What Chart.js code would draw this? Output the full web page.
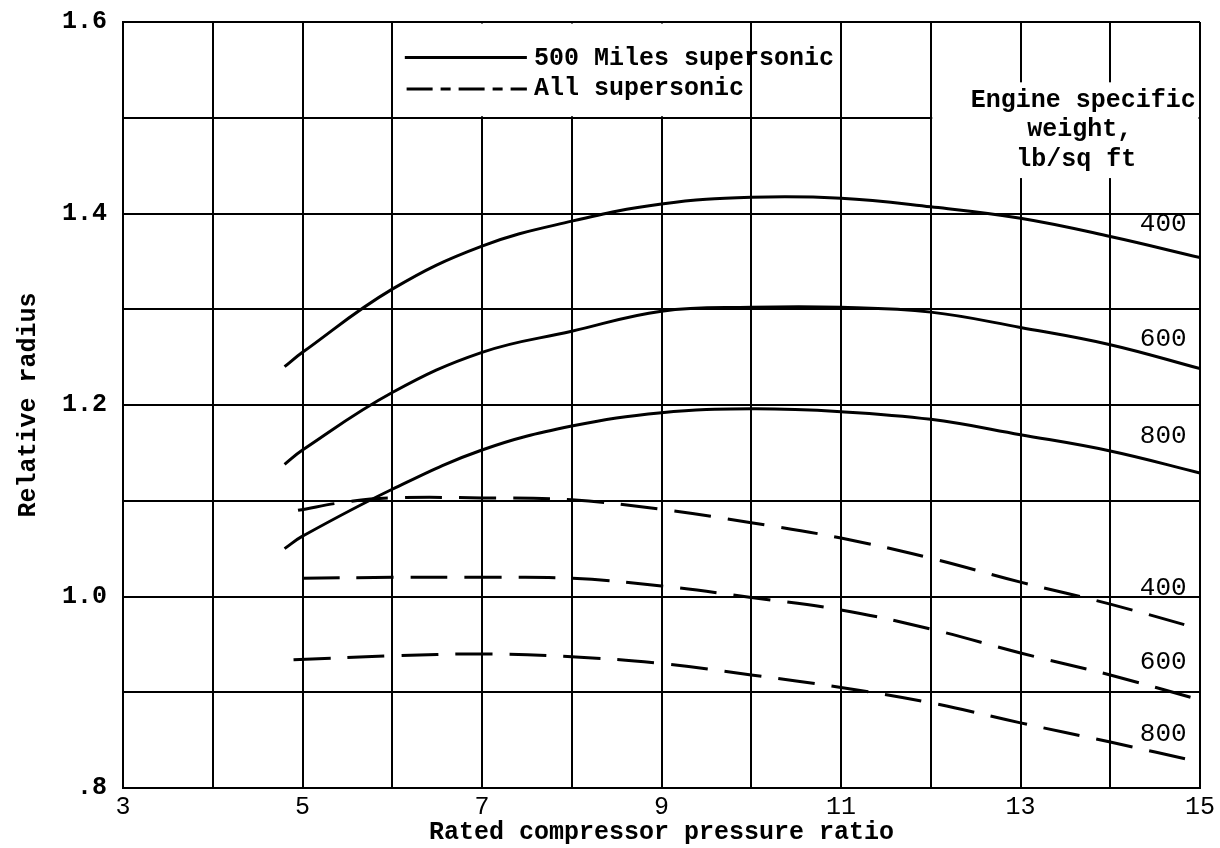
<!DOCTYPE html>
<html>
<head>
<meta charset="utf-8">
<script src="https://cdn.jsdelivr.net/npm/chart.js@4.4.1/dist/chart.umd.min.js"></script>
<style>
  html, body { margin: 0; padding: 0; background: #fff; }
  #wrap { width: 1220px; height: 848px; }
</style>
</head>
<body>
<div id="wrap"><canvas id="c" width="1220" height="848"></canvas></div>
<script>
// ---- Data ----
const xSolid = [4.8, 5, 6, 7, 8, 9, 10, 11, 12, 13, 14, 15];
const solid400 = [1.240, 1.255, 1.321, 1.366, 1.392, 1.410, 1.417, 1.416, 1.407, 1.395, 1.376, 1.354];
const solid600 = [1.138, 1.153, 1.213, 1.255, 1.277, 1.298, 1.302, 1.302, 1.297, 1.281, 1.263, 1.238];
const solid800 = [1.050, 1.063, 1.112, 1.153, 1.178, 1.192, 1.196, 1.193, 1.185, 1.169, 1.152, 1.129];

const xDash400 = [4.95, 5.5, 6, 7, 8, 9, 10, 11, 12, 13, 14, 15];
const dash400  = [1.090, 1.099, 1.103, 1.103, 1.101, 1.091, 1.077, 1.061, 1.040, 1.015, 0.992, 0.966];
const xDash600 = [5, 6, 7, 8, 9, 10, 11, 12, 13, 14, 15];
const dash600  = [1.019, 1.020, 1.020, 1.019, 1.011, 0.999, 0.986, 0.966, 0.941, 0.918, 0.892];
const xDash800 = [4.9, 6, 7, 8, 9, 10, 11, 12, 13, 14, 15];
const dash800  = [0.934, 0.938, 0.940, 0.937, 0.930, 0.918, 0.905, 0.889, 0.868, 0.848, 0.827];

const xTickLabels = ['3', '5', '7', '9', '11', '13', '15'];
const yTickLabels = ['.8', '1.0', '1.2', '1.4', '1.6'];
const seriesNames = ['500 Miles supersonic', 'All supersonic'];
const weightLabels = ['400', '600', '800'];
const sideTitle = ['Engine specific', 'weight,', 'lb/sq ft'];

// ---- Helpers ----
const FONT = '"Liberation Mono", "DejaVu Sans Mono", monospace';
const pts = (xs, ys) => xs.map((x, i) => ({ x: x, y: ys[i] }));
const DASH = [37, 17];

function ds(label, xs, ys, dashed) {
  return {
    label: label,
    data: pts(xs, ys),
    borderColor: '#000',
    borderWidth: 3,
    borderDash: dashed ? DASH : [],
    pointRadius: 0,
    fill: false,
    tension: 0.4
  };
}

const overlay = {
  id: 'overlay',
  beforeDatasetsDraw(chart) {
    const ctx = chart.ctx, xs = chart.scales.x, ys = chart.scales.y;
    ctx.save();
    ctx.fillStyle = '#fff';
    // legend box (between gridlines x 6..10, y 1.5..1.6)
    let l = xs.getPixelForValue(6) + 1.5, r = xs.getPixelForValue(10) - 1.5;
    let t = ys.getPixelForValue(1.6) + 1.5, b = ys.getPixelForValue(1.5) - 1.5;
    ctx.fillRect(l, t, r - l, b - t);
    // side title box
    l = xs.getPixelForValue(12) + 1.5; r = xs.getPixelForValue(15) - 1.5;
    t = ys.getPixelForValue(1.537); b = ys.getPixelForValue(1.437);
    ctx.fillRect(l, t, r - l, b - t);
    ctx.restore();
  },
  afterDatasetsDraw(chart) {
    const ctx = chart.ctx, xs = chart.scales.x, ys = chart.scales.y;
    const X = v => xs.getPixelForValue(v), Y = v => ys.getPixelForValue(v);
    ctx.save();
    ctx.fillStyle = '#000';
    ctx.strokeStyle = '#000';
    // legend
    ctx.lineWidth = 3;
    ctx.beginPath(); ctx.setLineDash([]);
    ctx.moveTo(X(6.14), Y(1.563)); ctx.lineTo(X(7.50), Y(1.563)); ctx.stroke();
    ctx.beginPath(); ctx.setLineDash([26, 8, 10, 8]);
    ctx.moveTo(X(6.16), Y(1.530)); ctx.lineTo(X(7.50), Y(1.530)); ctx.stroke();
    ctx.setLineDash([]);
    ctx.font = 'bold 25px ' + FONT;
    ctx.textAlign = 'left'; ctx.textBaseline = 'middle';
    ctx.fillText(seriesNames[0], X(7.58), Y(1.562));
    ctx.fillText(seriesNames[1], X(7.58), Y(1.530));
    // side title
    ctx.textAlign = 'center';
    ctx.fillText(sideTitle[0], X(13.70), Y(1.518));
    ctx.fillText(sideTitle[1], X(13.66), Y(1.487));
    ctx.fillText(sideTitle[2], X(13.62), Y(1.456));
    // curve labels
    ctx.font = '26px ' + FONT;
    const lx = 14.59;
    const ly = [1.389, 1.269, 1.167, 1.009, 0.931, 0.856];
    for (let i = 0; i < 6; i++) {
      ctx.fillText(weightLabels[i % 3], X(lx), Y(ly[i]));
    }
    ctx.restore();
  }
};

const chart = new Chart(document.getElementById('c'), {
  type: 'line',
  data: {
    datasets: [
      ds('500 Miles supersonic 400', xSolid, solid400, false),
      ds('500 Miles supersonic 600', xSolid, solid600, false),
      ds('500 Miles supersonic 800', xSolid, solid800, false),
      ds('All supersonic 400', xDash400, dash400, true),
      ds('All supersonic 600', xDash600, dash600, true),
      ds('All supersonic 800', xDash800, dash800, true)
    ]
  },
  options: {
    responsive: false,
    animation: false,
    devicePixelRatio: 1,
    layout: { padding: { left: 0, top: 22, right: 20, bottom: 0 } },
    plugins: { legend: { display: false }, tooltip: { enabled: false } },
    scales: {
      x: {
        type: 'linear', min: 3, max: 15,
        afterFit(s) { s.height = 60; s.paddingLeft = 0; s.paddingRight = 0; },
        ticks: {
          stepSize: 1, autoSkip: false, maxRotation: 0, padding: 4,
          color: '#000', font: { family: FONT, size: 25 },
          callback: v => (Math.round(v) % 2 === 1 ? xTickLabels[(Math.round(v) - 3) / 2] : '')
        },
        grid: { color: '#000', lineWidth: 2, drawTicks: false },
        border: { color: '#000', width: 2 },
        title: {
          display: true, text: 'Rated compressor pressure ratio', color: '#000',
          font: { family: FONT, size: 25, weight: 'bold' }, padding: { top: 0, bottom: 0 }
        }
      },
      y: {
        min: 0.8, max: 1.6,
        afterFit(s) { s.width = 123; s.paddingTop = 0; s.paddingBottom = 0; },
        ticks: {
          stepSize: 0.1, autoSkip: false, padding: 16,
          color: '#000', font: { family: FONT, size: 25, weight: 'bold' },
          callback: v => { const t = Math.round(v * 10); return t % 2 ? '' : yTickLabels[(t - 8) / 2]; }
        },
        grid: { color: '#000', lineWidth: 2, drawTicks: false },
        border: { color: '#000', width: 2 },
        title: {
          display: true, text: 'Relative radius', color: '#000',
          font: { family: FONT, size: 25, weight: 'bold' }, padding: { top: 14, bottom: 0 }
        }
      }
    }
  },
  plugins: [overlay]
});
</script>
</body>
</html>
